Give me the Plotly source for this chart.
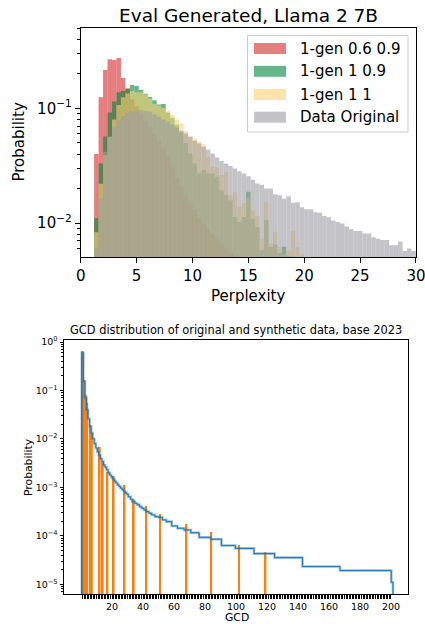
import math
import plotly.graph_objects as go

W, H = 425, 624

# ---------------- Top panel: perplexity histograms (density) ----------------
perp_bin_start = 1.2
perp_bin_width = 0.4

gen_06_09 = [0.040, 0.125, 0.216, 0.268, 0.264, 0.275, 0.184, 0.150, 0.120, 0.105,
             0.090, 0.078, 0.068, 0.060, 0.052, 0.045, 0.038, 0.031, 0.025, 0.0205,
             0.0175, 0.015, 0.013, 0.0112, 0.0098, 0.0088, 0.0080, 0.0072, 0.0065, 0.0060,
             0.0055, 0.0052]

gen_1_09 = [0.011, 0.033, 0.057, 0.092, 0.115, 0.138, 0.142, 0.148, 0.160, 0.157,
            0.145, 0.134, 0.126, 0.118, 0.108, 0.109, 0.092, 0.083, 0.072, 0.062,
            0.050, 0.0404, 0.033, 0.027, 0.029, 0.027, 0.027, 0.0253, 0.0193, 0.0175,
            0.0158, 0.0113, 0.0102, 0.0113, 0.0187, 0.0109, 0.0092, 0.0058, 0.0106, 0.0062,
            0.0065, 0.0055, 0.0062, 0.0052, 0.0051]

gen_1_1 = [0.0083, 0.022, 0.039, 0.0565, 0.080, 0.107, 0.125, 0.135, 0.142, 0.138,
           0.138, 0.132, 0.122, 0.110, 0.106, 0.101, 0.096, 0.0874, 0.080, 0.074,
           0.0635, 0.057, 0.0547, 0.0511, 0.0487, 0.0377, 0.0309, 0.0305, 0.0262, 0.0279,
           0.0175, 0.0187, 0.0138, 0.0148, 0.0166, 0.0130, 0.0115, 0.0073, 0.0153, 0.0066,
           0.0084, 0.0062, 0.0054, 0.0058, 0.0085, 0.0062, 0.0053]

data_original = [0.006, 0.0163, 0.0418, 0.0565, 0.068, 0.079, 0.0857, 0.0916, 0.094, 0.0953,
                 0.0966, 0.0953, 0.0934, 0.0891, 0.0845, 0.0801, 0.0764, 0.0729, 0.0682, 0.0638,
                 0.0604, 0.0565, 0.0521, 0.0494, 0.0462, 0.0438, 0.0404, 0.0373, 0.0348, 0.0330,
                 0.0315, 0.0299, 0.0283, 0.0270, 0.0256, 0.0239, 0.0221, 0.0216, 0.0200, 0.0200,
                 0.0178, 0.0175, 0.0163, 0.0171, 0.0150, 0.0152, 0.0137, 0.0132, 0.0132, 0.0124,
                 0.0123, 0.0115, 0.0112, 0.0105, 0.0102, 0.0099, 0.0093, 0.0088, 0.0085, 0.0085,
                 0.0081, 0.0081, 0.0075, 0.0073, 0.0071, 0.0071, 0.0064, 0.0064, 0.0069, 0.0057,
                 0.0060, 0.0057]

series_names = ["1-gen 0.6 0.9", "1-gen 1 0.9", "1-gen 1 1", "Data Original"]
perp_xticks = [0, 5, 10, 15, 20, 25, 30]

# ---------------- Bottom panel: GCD distribution ----------------
gcd_values = [1, 2, 3, 4, 6, 7, 12, 14, 17, 21, 28, 34, 42, 51, 68, 84, 102, 119]
gcd_synth_prob = [0.652, 0.164, 0.0807, 0.056, 0.0194, 0.0131, 0.0069, 0.00329, 0.00211,
                  0.00172, 0.00112, 0.00057, 0.000413, 0.000282, 0.000176, 0.00012,
                  6.5e-5, 4.58e-5]

gcd_step_edges = [0.5, 1.5, 2.5, 3.5, 4.5, 5.5, 6.5, 7.5, 8.5, 9.5, 10.5, 11.5, 12.5, 13.5,
                  14.5, 15.5, 16.5, 17.5, 18.5, 19.5, 20.5, 21.5, 22.5, 23.5, 24.5, 25.5,
                  26.5, 27.5, 28.5, 29.5, 30.5, 32, 33, 34.7, 36.2, 37.7, 39.1, 40.6, 42.1,
                  43.8, 45.5, 47.7, 49.9, 52.5, 55, 58.5, 62.2, 66.5, 70.8, 76.2, 83.8, 90.6,
                  99.6, 111.6, 124.9, 142.9, 167.1, 200.2, 201.3]
gcd_step_levels = [0.60, 0.155, 0.071, 0.040, 0.026, 0.018, 0.0132, 0.0101, 0.0080, 0.0065,
                   0.0054, 0.0046, 0.0039, 0.0034, 0.0029, 0.0026, 0.0023, 0.0020, 0.0018,
                   0.00163, 0.00148, 0.00135, 0.00123, 0.00113, 0.00104, 0.00096, 0.00089,
                   0.00083, 0.00077, 0.00072,
                   6.4e-4, 5.68e-4, 5.08e-4, 4.69e-4, 4.4e-4, 4.0e-4, 3.7e-4, 3.42e-4,
                   3.16e-4, 2.92e-4, 2.7e-4, 2.49e-4, 2.41e-4, 2.13e-4, 1.96e-4, 1.6e-4,
                   1.43e-4, 1.32e-4, 1.16e-4, 9.3e-5, 8.5e-5, 6.3e-5, 5.5e-5, 4.3e-5,
                   3.55e-5, 2.32e-5, 1.92e-5, 1.1e-5]
gcd_xticks = [20, 40, 60, 80, 100, 120, 140, 160, 180, 200]
gcd_minor_ticks = list(range(1, 201))

# ---------------- styling ----------------
RED = "rgba(214,39,40,0.6)"
GREEN = "rgba(0,133,62,0.6)"
YELLOW = "rgba(253,208,113,0.6)"
GRAY = "rgba(157,157,163,0.6)"
colors = [RED, GREEN, YELLOW, GRAY]
ORANGE = "#ff7f0e"
BLUE = "#1f77b4"
FONT = "DejaVu Sans"


def px_x(p):
    return p / W


def px_y(p):
    return 1 - p / H


fig = go.Figure()

for name, vals, col in zip(series_names, [gen_06_09, gen_1_09, gen_1_1, data_original], colors):
    centers = [perp_bin_start + perp_bin_width * (k + 0.5) for k in range(len(vals))]
    fig.add_trace(go.Bar(x=centers, y=vals, width=perp_bin_width, name=name,
                         marker=dict(color=col, line=dict(width=0)),
                         xaxis="x", yaxis="y", showlegend=False))

fig.add_trace(go.Bar(x=gcd_values, y=gcd_synth_prob, width=1.2,
                     marker=dict(color=ORANGE, line=dict(width=0)),
                     xaxis="x2", yaxis="y2", showlegend=False))

FLOOR = 1e-8
step_x = [gcd_step_edges[0]] + gcd_step_edges
step_y = [FLOOR] + gcd_step_levels + [FLOOR]
fig.add_trace(go.Scatter(x=step_x, y=step_y, mode="lines", line_shape="hv",
                         line=dict(color="rgba(31,119,180,0.45)", width=2.6),
                         xaxis="x2", yaxis="y2", showlegend=False))
fig.add_trace(go.Scatter(x=step_x, y=step_y, mode="lines", line_shape="hv",
                         line=dict(color=BLUE, width=1.0),
                         xaxis="x2", yaxis="y2", showlegend=False))

top_minor = [m * 10 ** d for d in (-3, -2, -1) for m in range(2, 10)]
bot_minor = [m * 10 ** d for d in range(-6, 0) for m in range(2, 10)]

axis_common = dict(showline=True, linecolor="black", linewidth=1, mirror=True,
                   showgrid=False, zeroline=False, ticks="outside", tickcolor="black",
                   ticklabeloverflow="allow")

fig.update_layout(
    width=W, height=H,
    margin=dict(l=0, r=0, t=0, b=0, autoexpand=False),
    plot_bgcolor="white", paper_bgcolor="white",
    barmode="overlay", showlegend=False,
    font=dict(family=FONT, color="black"),
    xaxis=dict(domain=[px_x(80.7), px_x(416)], range=[-0.0005, 30.0005], anchor="y",
               tickmode="array", tickvals=perp_xticks, ticklen=5, tickwidth=1,
               tickfont=dict(size=15), **axis_common),
    yaxis=dict(domain=[px_y(257), px_y(28)], type="log",
               range=[math.log10(0.00505), math.log10(0.503)], anchor="x",
               tickmode="array", tickvals=[0.01, 0.1],
               ticktext=["10<sup>−2</sup>", "10<sup>−1</sup>"],
               ticklen=5, tickwidth=1, tickfont=dict(size=15),
               minor=dict(tickmode="array", tickvals=top_minor, ticklen=3,
                          ticks="outside", tickcolor="black", tickwidth=0.8),
               **axis_common),
    xaxis2=dict(domain=[px_x(64), px_x(408)], range=[-11, 211], anchor="y2",
                tickmode="array", tickvals=gcd_xticks, ticklen=3.5, tickwidth=0.8,
                tickfont=dict(size=9.5),
                minor=dict(tickmode="array", tickvals=gcd_minor_ticks, ticklen=3.5,
                           ticks="outside", tickcolor="black", tickwidth=0.8),
                **axis_common),
    yaxis2=dict(domain=[px_y(594), px_y(340)], type="log",
                range=[math.log10(6.3e-6), math.log10(1.1)], anchor="x2",
                tickmode="array", tickvals=[1e-5, 1e-4, 1e-3, 1e-2, 1e-1, 1],
                ticktext=["10<sup>−5</sup>", "10<sup>−4</sup>", "10<sup>−3</sup>",
                          "10<sup>−2</sup>", "10<sup>−1</sup>", "10<sup>0</sup>"],
                ticklen=3.5, tickwidth=0.8, tickfont=dict(size=9.5),
                minor=dict(tickmode="array", tickvals=bot_minor, ticklen=2,
                           ticks="outside", tickcolor="black", tickwidth=0.6),
                **axis_common),
)

annotations = [
    dict(text="Eval Generated, Llama 2 7B", x=px_x(248.4), y=px_y(15), font=dict(size=18.5)),
    dict(text="Perplexity", x=px_x(248.4), y=px_y(296), font=dict(size=15)),
    dict(text="Probability", x=px_x(19), y=px_y(142.5), font=dict(size=15), textangle=-90),
    dict(text="GCD distribution of original and synthetic data, base 2023",
         x=px_x(236), y=px_y(330), font=dict(size=11.4)),
    dict(text="GCD", x=px_x(237), y=px_y(617.5), font=dict(size=10.8)),
    dict(text="Probability", x=px_x(28), y=px_y(467), font=dict(size=10.8), textangle=-90),
]
for a in annotations:
    a.update(xref="paper", yref="paper", showarrow=False, xanchor="center", yanchor="middle")

shapes = [dict(type="rect", xref="paper", yref="paper",
               x0=px_x(247.5), x1=px_x(408), y0=px_y(132), y1=px_y(35.5),
               line=dict(color="rgb(204,204,204)", width=1),
               fillcolor="rgba(255,255,255,0.8)", layer="above")]
row_centers = [48.5, 71.3, 94.5, 117.2]
for name, col, yc in zip(series_names, colors, row_centers):
    shapes.append(dict(type="rect", xref="paper", yref="paper",
                       x0=px_x(254), x1=px_x(286), y0=px_y(yc + 5.5), y1=px_y(yc - 5.5),
                       line=dict(width=0), fillcolor=col, layer="above"))
    annotations.append(dict(text=name, xref="paper", yref="paper", x=px_x(298), y=px_y(yc),
                            xanchor="left", yanchor="middle", showarrow=False,
                            font=dict(size=15)))

fig.update_layout(annotations=annotations, shapes=shapes)
fig.write_html("out.html",
               config={"displayModeBar": False},
               post_script="document.body.style.margin='0';document.body.style.overflow='hidden';")
